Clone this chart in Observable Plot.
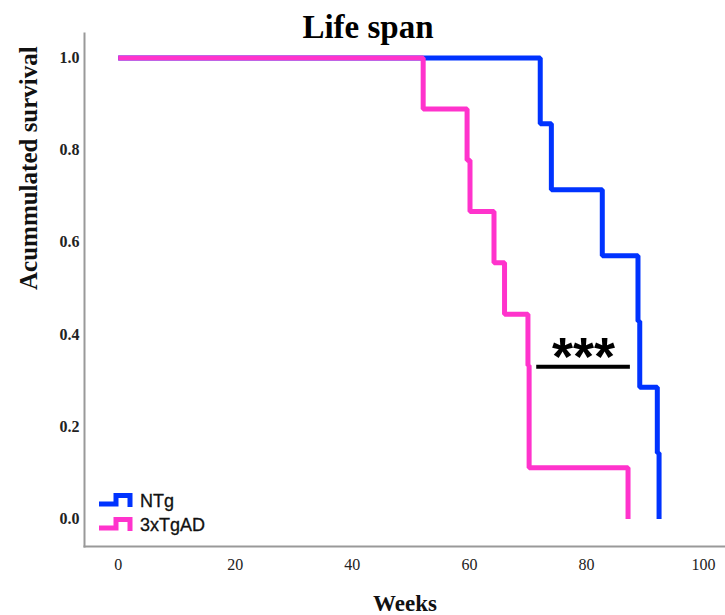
<!DOCTYPE html>
<html><head><meta charset="utf-8">
<script src="https://cdn.jsdelivr.net/npm/d3@7"></script>
<script src="https://cdn.jsdelivr.net/npm/@observablehq/plot@0.6"></script>
<style>
body{margin:0;background:#fff}
#chart{position:relative;width:725px;height:615px}
</style>
</head><body><div id="chart"></div>
<script>
const title = "Life span";
const xLabel = "Weeks";
const yLabel = "Acummulated survival";
const groups = ["NTg", "3xTgAD"];
const colors = ["#0033ff", "#ff33cc"];
const ntgWeeks = [0, 72.1, 74.0, 82.7, 88.8, 89.1, 92.1, 92.4];
const ntgSurvival = [1, 0.857, 0.714, 0.571, 0.429, 0.286, 0.143, 0];
const tgWeeks = [0, 52.1, 59.6, 60.1, 64.2, 66.0, 70.0, 70.2, 87.1];
const tgSurvival = [1, 0.889, 0.778, 0.667, 0.556, 0.444, 0.333, 0.111, 0];
const xTicks = [0, 20, 40, 60, 80, 100];
const yTicks = [0, 0.2, 0.4, 0.6, 0.8, 1.0];
const sigLabel = "***";
const sigStart = 71.5, sigEnd = 87.5, sigLevel = 0.33;

const rows = [
  ...ntgWeeks.map((w, i) => ({group: groups[0], week: w, survival: ntgSurvival[i]})),
  ...tgWeeks.map((w, i) => ({group: groups[1], week: w, survival: tgSurvival[i]}))
];

const serif = "Liberation Serif, Times New Roman, serif";
const sans = "Liberation Sans, Arial, sans-serif";

const plot = Plot.plot({
  width: 725, height: 615,
  marginLeft: 84, marginRight: 0, marginTop: 33, marginBottom: 69,
  x: {domain: [-5.76, 103.75]},
  y: {domain: [-0.0596, 1.053]},
  color: {domain: groups, range: colors},
  style: {background: "white", overflow: "visible"},
  marks: [
    Plot.frame({anchor: "left", stroke: "#999", strokeWidth: 2}),
    Plot.frame({anchor: "bottom", stroke: "#999", strokeWidth: 2}),
    Plot.axisX({ticks: xTicks, tickSize: 0, tickPadding: 12, label: null,
      fontFamily: serif, fontSize: 16, fill: "#222"}),
    Plot.axisY({ticks: yTicks, tickSize: 0, tickPadding: 5, label: null,
      tickFormat: d3.format(".1f"), fontFamily: serif, fontSize: 16, fontWeight: "bold", fill: "#222"}),
    Plot.line(rows, {x: "week", y: "survival", z: "group", stroke: "group",
      strokeWidth: 5, curve: "step-after", strokeLinejoin: "miter", strokeLinecap: "butt"}),
    Plot.ruleY([sigLevel], {x1: sigStart, x2: sigEnd, stroke: "black", strokeWidth: 4}),
    Plot.text([sigLabel], {x: (sigStart + sigEnd) / 2, y: sigLevel, text: d => d,
      lineAnchor: "bottom", dy: 8, fontFamily: sans, fontWeight: "bold", fontSize: 54, fill: "black"}),
    Plot.text([title], {frameAnchor: "top", text: d => d, dx: -37, dy: 4, lineAnchor: "bottom",
      fontFamily: serif, fontWeight: "bold", fontSize: 33, fill: "black"}),
    Plot.text([xLabel], {frameAnchor: "bottom", text: d => d, dy: 64, lineAnchor: "bottom",
      fontFamily: serif, fontWeight: "bold", fontSize: 23, fill: "#111"}),
    Plot.text([yLabel], {frameAnchor: "left", text: d => d, dx: -56, rotate: -90,
      fontFamily: serif, fontWeight: "bold", fontSize: 25, fill: "#111"})
  ]
});

// legend inside the plot area (bottom-left)
const svg = d3.select(plot);
const lg = svg.append("g").attr("class", "legend").attr("text-anchor", "start");
groups.forEach((g, i) => {
  const oy = i * 24;
  lg.append("path")
    .attr("d", `M99,${504 + oy}H116V${495.5 + oy}H130V${507 + oy}`)
    .attr("fill", "none").attr("stroke", colors[i]).attr("stroke-width", 5)
    .attr("stroke-linejoin", "miter").attr("stroke-linecap", "butt");
  lg.append("text")
    .attr("x", 140).attr("y", 507 + oy)
    .attr("text-anchor", "start")
    .attr("font-family", sans).attr("font-size", 18).attr("fill", "#111")
    .attr("stroke", "#111").attr("stroke-width", 0.3)
    .text(g);
});

document.getElementById("chart").appendChild(plot);
</script>
</body></html>
